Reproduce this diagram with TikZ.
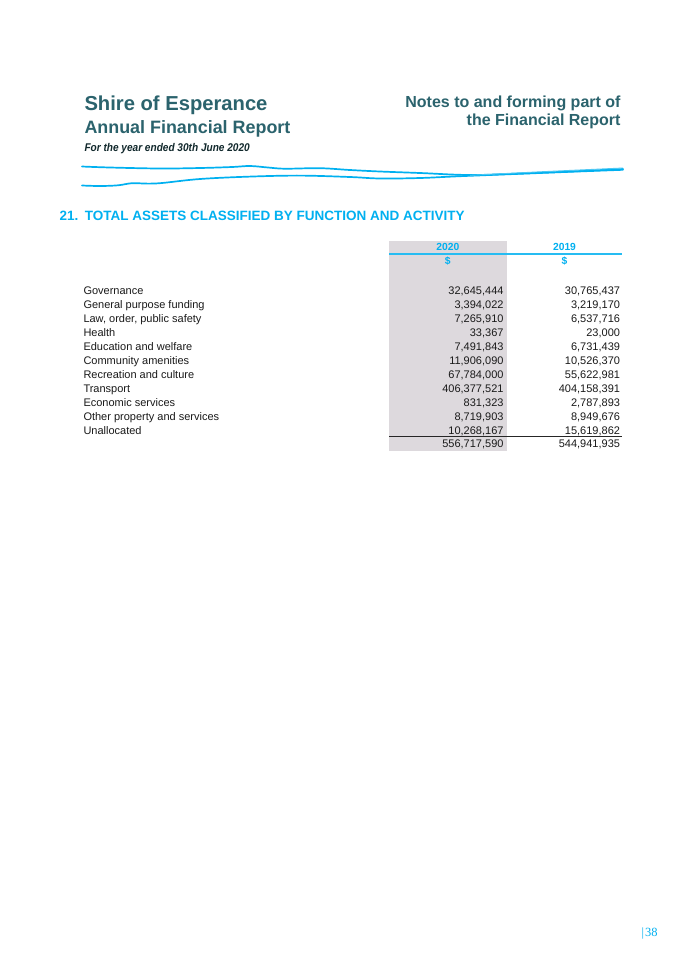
\documentclass[tikz,border=0pt]{standalone}
\usepackage{fontspec}
\setmainfont{Liberation Sans}
\newfontfamily\serifpn{Liberation Serif}
\newfontfamily\narrowsans[FakeStretch=0.9]{Liberation Sans}
\definecolor{hdrteal}{HTML}{2B636D}
\definecolor{acblue}{HTML}{00B0F0}
\definecolor{colgray}{HTML}{DDD9DD}
\definecolor{bodytxt}{HTML}{1A1A1A}
\tikzset{
  txt/.style={inner sep=0pt, outer sep=0pt, anchor=base west},
  rtxt/.style={inner sep=0pt, outer sep=0pt, anchor=base east},
  ctxt/.style={inner sep=0pt, outer sep=0pt, anchor=base},
  hdr/.style={txt, text=hdrteal, font=\bfseries},
  hdrr/.style={rtxt, text=hdrteal, font=\fontsize{16}{18}\selectfont\bfseries},
  rowlabel/.style={txt, text=bodytxt, font=\fontsize{11}{13}\selectfont},
  num/.style={rtxt, text=bodytxt, font=\fontsize{11}{13}\selectfont},
  colhead/.style={ctxt, text=acblue, font=\fontsize{10.3}{12}\selectfont\bfseries},
  wave/.style={draw=acblue, line width=1.7pt, line cap=round}
}
\begin{document}
\begin{tikzpicture}[x=1pt,y=-1pt]
\useasboundingbox[fill=white] (0,0) rectangle (675,954);

% header texts
\node[hdr, font=\fontsize{20.2}{22}\selectfont\bfseries] (shire) at (84.5,110) {Shire of Esperance};
\node[hdr, font=\fontsize{17.9}{20}\selectfont\bfseries] (afr) at (84.5,133) {Annual Financial Report};
\node[txt, text=hdrteal!40!black, font=\narrowsans\fontsize{11.2}{13}\selectfont\bfseries\itshape] (year) at (84.5,151.5) {For the year ended 30th June 2020};
\node[hdrr] (notes1) at (620.5,107) {Notes to and forming part of};
\node[hdrr] (notes2) at (620.5,125.5) {the Financial Report};

% decorative lines
\draw[wave] plot[smooth, tension=0.6] coordinates {(82,166.5) (110,167.5) (160,168.5) (200,168) (232,167) (250,166) (268,167.5) (285,168.7) (320,168.2) (350,170) (380,171.5) (420,173) (470,175) (520,173.5) (570,171.5) (623,169)};
\draw[wave] plot[smooth, tension=0.6] coordinates {(82,185.5) (100,186) (118,185.3) (132,183.2) (147,183.6) (162,183) (200,179) (250,176.6) (300,175.6) (350,177) (380,178.5) (420,178) (460,176.2) (520,173.8) (570,171.8) (623,169.8)};
\draw[draw=acblue!70, line width=0.9pt] plot[smooth] coordinates {(470,175.3) (540,171.8) (623,168)};

% section title
\node[txt, text=acblue, font=\fontsize{13.5}{16}\selectfont\bfseries] (title) at (59.5,220) {21.\hspace{6.5pt}TOTAL ASSETS CLASSIFIED BY FUNCTION AND ACTIVITY};

% shaded column
\fill[colgray] (389.3,241) rectangle (506.5,450.5);
\coordinate (bl) at (389.3,254.3);
\coordinate (br) at (621.5,254.3);
\draw[draw=acblue!85, line width=1.8pt] (bl) -- (br);

\node[colhead] (y2020) at (447.8,250.5) {2020};
\node[colhead] (y2019) at (564.5,250.5) {2019};
\node[colhead] (d2020) at (447.8,264) {\$};
\node[colhead] (d2019) at (564.5,264) {\$};

% rows
\foreach \lab/\a/\b [count=\i from 0] in {
  {Governance}/{32,645,444}/{30,765,437},
  {General purpose funding}/{3,394,022}/{3,219,170},
  {Law, order, public safety}/{7,265,910}/{6,537,716},
  {Health}/{33,367}/{23,000},
  {Education and welfare}/{7,491,843}/{6,731,439},
  {Community amenities}/{11,906,090}/{10,526,370},
  {Recreation and culture}/{67,784,000}/{55,622,981},
  {Transport}/{406,377,521}/{404,158,391},
  {Economic services}/{831,323}/{2,787,893},
  {Other property and services}/{8,719,903}/{8,949,676},
  {Unallocated}/{10,268,167}/{15,619,862}}{
  \node[rowlabel] (lab\i) at (83.5,{294+14*\i}) {\lab};
  \node[num] (na\i) at (503.5,{294+14*\i}) {\a};
  \node[num] (nb\i) at (620,{294+14*\i}) {\b};
}

\coordinate (tl) at (389.3,436.8);
\coordinate (tr) at (621.5,436.8);
\draw[black!85, line width=1.1pt] (tl) -- (tr);
\node[num] (tota) at (503.5,447.8) {556,717,590};
\node[num] (totb) at (620,447.8) {544,941,935};

% page number
\node[txt, text=acblue, font=\serifpn\fontsize{12.5}{14}\selectfont] (pg) at (641.5,936.5) {|\kern1pt38};
\end{tikzpicture}
\end{document}
